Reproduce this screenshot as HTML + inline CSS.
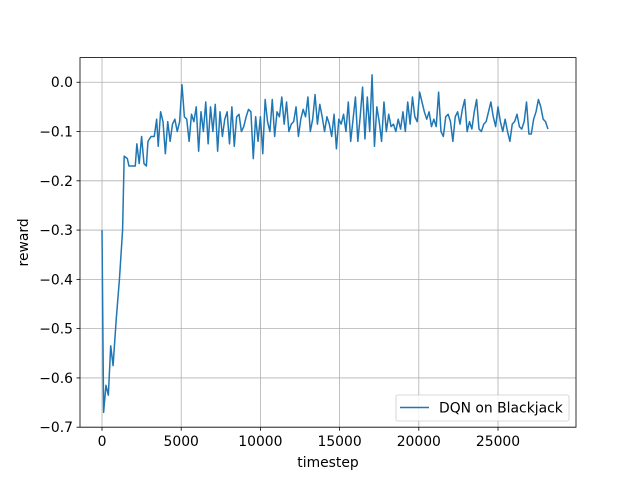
<!DOCTYPE html>
<html><head><meta charset="utf-8"><style>
html,body{margin:0;padding:0;background:#fff}
svg{display:block;font-family:"DejaVu Sans","Liberation Sans",sans-serif}
</style></head><body>
<svg id="chart" width="640" height="480"></svg>
<script>
const xTicks=[0,5000,10000,15000,20000,25000];
const yTicks=[0.0,-0.1,-0.2,-0.3,-0.4,-0.5,-0.6,-0.7];
const yTickLabels=["0.0","−0.1","−0.2","−0.3","−0.4","−0.5","−0.6","−0.7"];
const steps=[0,100,250,400,550,700,900,1100,1300,1400,1600,1700,1900,2100,2200,2350,2500,2650,2800,2900,3100,3300,3450,3550,3700,3850,4000,4150,4300,4450,4600,4750,4900,5050,5200,5350,5500,5650,5800,
5950,6100,6250,6400,6550,6700,6850,7000,7150,7300,7450,7600,7750,7900,8050,8200,8350,8500,8650,8800,8950,9100,9250,9400,9550,9700,9850,
10000,10150,10300,10450,10600,10750,10900,11050,11200,11350,11500,11650,11800,11950,12100,12250,12400,12550,12700,12850,13000,13150,13300,13450,13600,13750,13900,14050,14200,14350,14500,14650,14800,14950,15100,15250,15400,15550,15700,15850,16000,16150,16300,16450,16600,16750,16900,
17050,
17200,17350,17500,17650,17800,17950,18100,18250,18400,18550,18700,18850,19000,19150,19300,19450,19600,19750,19900,20050,20200,20350,20500,20650,20800,20950,21100,21250,21400,21550,21700,21850,22000,22150,22300,22450,22600,22750,22900,23050,23200,23350,23500,23650,23800,23950,24100,24250,24400,24550,24700,24850,25000,25150,25300,25450,25600,25750,25900,26050,26200,26350,26500,26650,26800,26950,27100,27250,27400,27550,27700,27850,28000,28150];
const rewards=[-0.30,-0.67,-0.615,-0.635,-0.535,-0.575,-0.48,-0.40,-0.30,-0.15,-0.155,-0.17,-0.17,-0.17,-0.125,-0.165,-0.11,-0.165,-0.17,-0.12,-0.11,-0.11,-0.075,-0.13,-0.06,-0.08,-0.145,-0.08,-0.12,-0.085,-0.075,-0.10,-0.08,-0.005,-0.07,-0.075,-0.12,-0.065,-0.08,
-0.05,-0.14,-0.06,-0.10,-0.04,-0.125,-0.05,-0.10,-0.045,-0.14,-0.06,-0.11,-0.075,-0.06,-0.125,-0.05,-0.13,-0.07,-0.065,-0.10,-0.09,-0.07,-0.055,-0.06,-0.155,-0.07,-0.12,
-0.07,-0.145,-0.035,-0.08,-0.10,-0.035,-0.11,-0.06,-0.07,-0.03,-0.085,-0.04,-0.10,-0.085,-0.08,-0.05,-0.11,-0.075,-0.055,-0.07,-0.03,-0.10,-0.075,-0.025,-0.085,-0.045,-0.07,-0.10,-0.07,-0.085,-0.11,-0.065,-0.135,-0.075,-0.085,-0.065,-0.10,-0.04,-0.12,-0.075,-0.03,-0.12,-0.07,-0.01,-0.115,-0.03,-0.10,
0.015,
-0.13,-0.05,-0.08,-0.12,-0.04,-0.10,-0.065,-0.09,-0.085,-0.10,-0.075,-0.095,-0.06,-0.10,-0.04,-0.085,-0.03,-0.07,-0.08,-0.02,-0.04,-0.06,-0.075,-0.06,-0.09,-0.075,-0.09,-0.02,-0.10,-0.11,-0.07,-0.065,-0.08,-0.12,-0.07,-0.06,-0.085,-0.055,-0.035,-0.10,-0.08,-0.095,-0.06,-0.035,-0.095,-0.10,-0.085,-0.08,-0.06,-0.04,-0.07,-0.09,-0.05,-0.08,-0.10,-0.075,-0.10,-0.12,-0.085,-0.08,-0.065,-0.09,-0.095,-0.08,-0.04,-0.105,-0.105,-0.075,-0.06,-0.035,-0.05,-0.075,-0.08,-0.095];
const svg=document.getElementById('chart');
const NS='http://www.w3.org/2000/svg';
const L=80,R=576,T=57.6,B=427.2;
const xMin=-1389,xMax=29924,yMin=-0.7,yMax=0.05;
const sx=v=>L+(v-xMin)/(xMax-xMin)*(R-L);
const sy=v=>B-(v-yMin)/(yMax-yMin)*(B-T);
function mk(tag,attrs,parent){const e=document.createElementNS(NS,tag);for(const k in attrs)e.setAttribute(k,attrs[k]);(parent||svg).appendChild(e);return e;}
xTicks.forEach((t,i)=>{
  const g=mk('line',{x1:sx(t),x2:sx(t),y1:T,y2:B,stroke:'#b0b0b0','stroke-width':0.8});
  
  
  mk('line',{x1:sx(t),x2:sx(t),y1:B,y2:B+3.5,stroke:'#000','stroke-width':0.8});
  const tx=mk('text',{x:sx(t),y:B+19,'text-anchor':'middle','font-size':13.9});
  tx.textContent=String(t);
  
  
});
yTicks.forEach((t,i)=>{
  const g=mk('line',{x1:L,x2:R,y1:sy(t),y2:sy(t),stroke:'#b0b0b0','stroke-width':0.8});
  
  
  mk('line',{x1:L-3.5,x2:L,y1:sy(t),y2:sy(t),stroke:'#000','stroke-width':0.8});
  const tx=mk('text',{x:L-7,y:sy(t)+5,'text-anchor':'end','font-size':13.9});
  tx.textContent=yTickLabels[i];
  
  
});
const d=steps.map((s,i)=>(i?'L':'M')+sx(s).toFixed(2)+','+sy(rewards[i]).toFixed(2)).join('');
const line=mk('path',{d:d,fill:'none',stroke:'#1f77b4','stroke-width':1.5,'stroke-linejoin':'round'});


const frame=mk('rect',{x:L,y:T,width:R-L,height:B-T,fill:'none',stroke:'#000','stroke-width':0.8});


const xl=mk('text',{x:(L+R)/2,y:467,'text-anchor':'middle','font-size':13.9});
xl.textContent='timestep';


const yl=mk('text',{x:0,y:0,'text-anchor':'middle','font-size':13.9,transform:'translate(28,'+((T+B)/2)+') rotate(-90)'});
yl.textContent='reward';


const lg=mk('g',{});


mk('rect',{x:396,y:395,width:173,height:26,rx:2,fill:'#fff','fill-opacity':0.8,stroke:'#ccc','stroke-width':0.8},lg);
mk('line',{x1:400,x2:429,y1:407.5,y2:407.5,stroke:'#1f77b4','stroke-width':1.5},lg);
const lt=mk('text',{x:439,y:412.5,'font-size':13.9},lg);
lt.textContent='DQN on Blackjack';


</script>
</body></html>
